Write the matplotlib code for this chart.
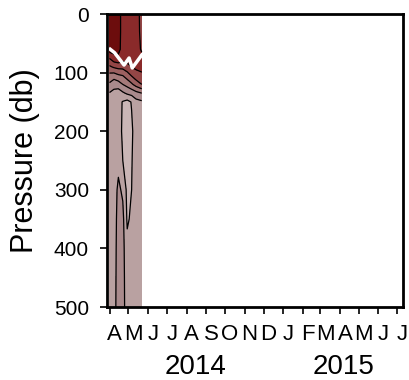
import datetime as dt

import matplotlib
matplotlib.use('Agg')
import matplotlib.dates as mdates
import numpy as np
from matplotlib import pyplot as plt
from matplotlib.colors import ListedColormap, BoundaryNorm

plt.rcParams['font.family'] = ['Liberation Sans', 'DejaVu Sans']

# profile dates (one column each) and pressure levels (one row each)
profile_dates = [dt.date(2014, 4, 1), dt.date(2014, 4, 8), dt.date(2014, 4, 15),
                 dt.date(2014, 4, 22), dt.date(2014, 4, 29), dt.date(2014, 5, 6),
                 dt.date(2014, 5, 13), dt.date(2014, 5, 22)]
pressure = [3, 30, 60, 75, 90, 105, 120, 135, 150, 200, 250, 300, 350, 400, 450, 500]

temperature = [
    [8.20, 8.20, 8.12, 7.88, 7.86, 7.85, 7.84, 7.60],
    [8.22, 8.18, 8.10, 7.90, 7.85, 7.86, 7.83, 7.62],
    [8.15, 8.12, 8.06, 7.92, 7.86, 7.85, 7.84, 7.66],
    [7.72, 7.90, 7.95, 7.82, 7.84, 7.83, 7.82, 7.78],
    [7.35, 7.45, 7.50, 7.50, 7.60, 7.70, 7.76, 7.76],
    [7.00, 6.95, 7.05, 7.10, 7.25, 7.42, 7.58, 7.66],
    [6.75, 6.60, 6.65, 6.80, 6.90, 7.05, 7.22, 7.40],
    [6.48, 6.42, 6.35, 6.45, 6.55, 6.60, 6.70, 6.80],
    [6.35, 6.38, 6.30, 6.18, 6.10, 6.22, 6.40, 6.45],
    [6.32, 6.35, 6.33, 6.15, 6.05, 6.15, 6.35, 6.32],
    [6.33, 6.34, 6.42, 6.20, 6.08, 6.18, 6.36, 6.34],
    [6.30, 6.36, 6.56, 6.45, 6.12, 6.20, 6.33, 6.32],
    [6.32, 6.37, 6.60, 6.58, 6.16, 6.25, 6.34, 6.33],
    [6.31, 6.38, 6.62, 6.60, 6.28, 6.32, 6.33, 6.32],
    [6.30, 6.38, 6.64, 6.62, 6.30, 6.31, 6.32, 6.33],
    [6.30, 6.38, 6.66, 6.64, 6.30, 6.31, 6.32, 6.32],
]

# mixed layer depth
mld_dates = [dt.date(2014, 4, 2), dt.date(2014, 4, 9), dt.date(2014, 4, 24),
             dt.date(2014, 5, 2), dt.date(2014, 5, 7), dt.date(2014, 5, 22)]
mld_db = [60, 66, 87, 75, 92, 70]

levels = [5.9, 6.2, 6.5, 6.8, 7.1, 7.4, 7.7, 8.0, 8.4]
band_colors = ['#cab6b6', '#b9a1a1', '#a98a8c', '#a57a7a', '#9c6060',
               '#934646', '#8a2a2a', '#6c0d0d']

month_letters = list('AMJJASONDJFMAMJJ')
month_starts = [dt.date(2014 + (3 + i) // 12, (3 + i) % 12 + 1, 1) for i in range(16)]
years = ['2014', '2015']
year_centres = [dt.date(2014, 8, 15), dt.date(2015, 4, 6)]

fig = plt.figure(figsize=(4.1, 3.8), dpi=100)
ax = fig.add_axes([0.261, 0.192, 0.722, 0.771])

x = mdates.date2num(profile_dates)
X, P = np.meshgrid(x, pressure)
T = np.array(temperature)

cmap = ListedColormap(band_colors)
norm = BoundaryNorm(levels, cmap.N)
ax.contourf(X, P, T, levels=levels, cmap=cmap, norm=norm)
ax.contour(X, P, T, levels=levels[1:-1], colors='black', linewidths=0.9)

ax.plot(mdates.date2num(mld_dates), mld_db, color='white', lw=2.5)

ax.set_ylim(500, 0)
ax.set_xlim(mdates.date2num(dt.date(2014, 3, 28)), mdates.date2num(dt.date(2015, 7, 10)))

ax.set_yticks([0, 100, 200, 300, 400, 500])
ax.tick_params(axis='y', labelsize=15, length=5, width=1.2, pad=8)
ax.set_ylabel('Pressure (db)', fontsize=22)
ax.yaxis.set_label_coords(-0.225, 0.5)

ax.set_xticks(mdates.date2num(month_starts))
ax.set_xticklabels([])
ax.tick_params(axis='x', length=5, width=1.2)

trans = ax.get_xaxis_transform()
for d, m in zip(month_starts, month_letters):
    ax.text(mdates.date2num(d) + 8, -0.113, m, transform=trans, ha='center',
            va='baseline', fontsize=16)
for d, y in zip(year_centres, years):
    ax.text(mdates.date2num(d), -0.229, y, transform=trans, ha='center',
            va='baseline', fontsize=20)

for s in ax.spines.values():
    s.set_linewidth(2.0)

fig.savefig('out.png', dpi=100)
